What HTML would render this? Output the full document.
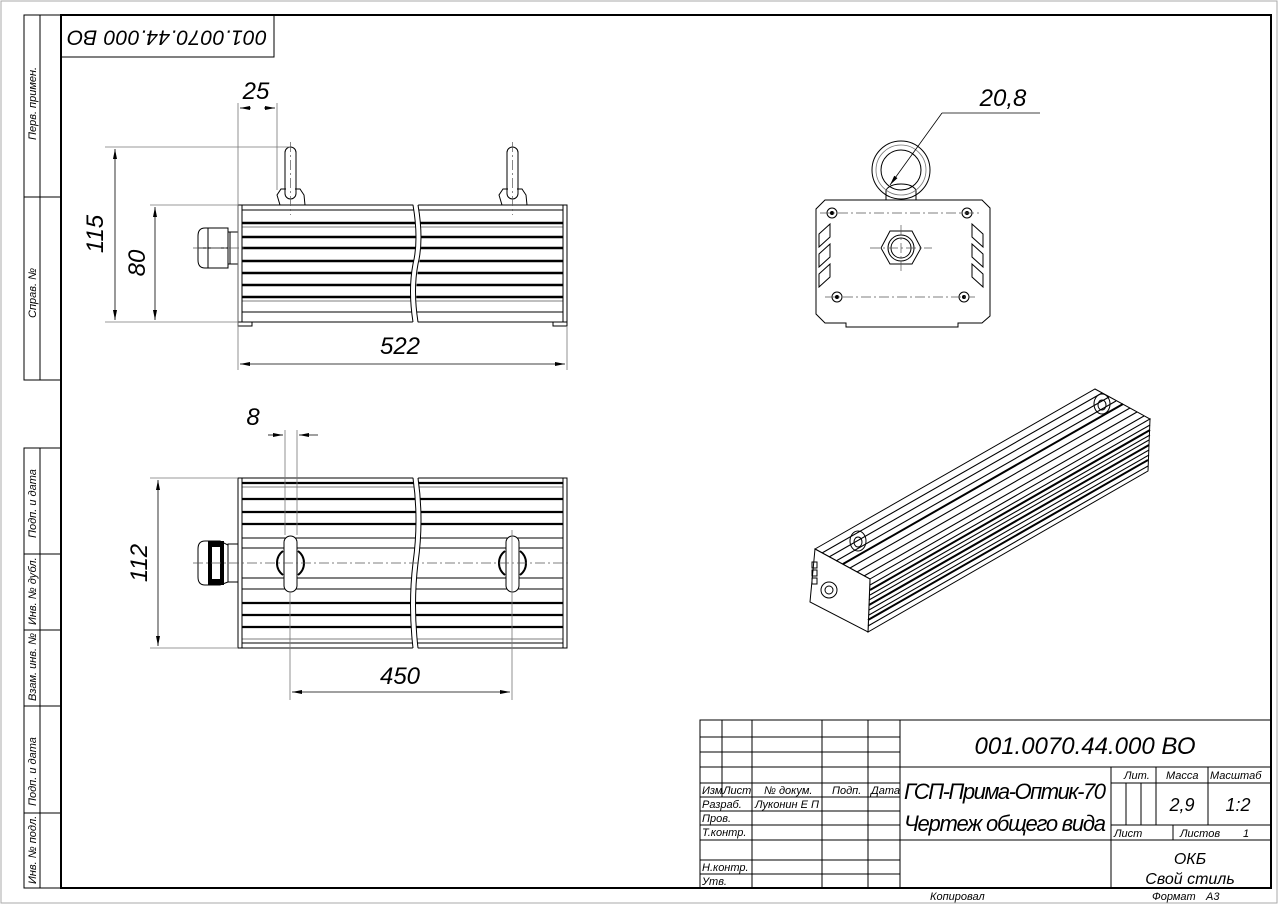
<!DOCTYPE html>
<html><head><meta charset="utf-8"><style>
html,body{margin:0;padding:0;background:#fff}
svg{display:block}
text{font-family:"Liberation Sans","DejaVu Sans",sans-serif;font-style:italic;fill:#000}
.t{stroke:#000;stroke-width:1;fill:none}
.T{stroke:#000;stroke-width:2;fill:none}
.g{stroke:#777;stroke-width:0.8;fill:none}
.c{stroke:#555;stroke-width:0.7;fill:none;stroke-dasharray:10 3 2 3}
</style></head><body>
<svg width="1279" height="905" viewBox="0 0 1279 905" xmlns="http://www.w3.org/2000/svg">
<defs>
<marker id="a" viewBox="0 0 10 4" refX="10" refY="2" markerWidth="12" markerHeight="4" markerUnits="userSpaceOnUse" orient="auto-start-reverse"><path d="M0,0L10,2L0,4z" fill="#000"/></marker>
</defs>
<rect x="1" y="1" width="1276" height="902" fill="none" stroke="#aaa" stroke-width="1"/>
<rect x="61" y="15" width="1210" height="873" class="T" stroke-width="1.5"/>
<!-- left stamps -->
<g class="t" stroke-width="1.3">
<rect x="24" y="15" width="37" height="365"/><line x1="40" y1="15" x2="40" y2="380"/><line x1="24" y1="197" x2="61" y2="197"/>
<rect x="24" y="448" width="37" height="440"/><line x1="40" y1="448" x2="40" y2="888"/>
<line x1="24" y1="554" x2="61" y2="554"/><line x1="24" y1="630" x2="61" y2="630"/><line x1="24" y1="706" x2="61" y2="706"/><line x1="24" y1="813" x2="61" y2="813"/>
</g>
<g font-size="11">
<text transform="translate(36,140) rotate(-90)">Перв. примен.</text>
<text transform="translate(36,318) rotate(-90)">Справ. №</text>
<text transform="translate(36,538) rotate(-90)">Подп. и дата</text>
<text transform="translate(36,625) rotate(-90)">Инв. № дубл.</text>
<text transform="translate(36,701) rotate(-90)">Взам. инв. №</text>
<text transform="translate(36,806) rotate(-90)">Подп. и дата</text>
<text transform="translate(36,884) rotate(-90)">Инв. № подл.</text>
</g>
<!-- top label box -->
<rect x="61" y="15" width="213" height="42" class="t" stroke-width="1.5"/>
<text transform="translate(167,36) rotate(180)" font-size="21" text-anchor="middle" dominant-baseline="middle" textLength="200">001.0070.44.000 ВО</text>

<!-- FRONT VIEW -->
<g>
<rect x="238" y="205" width="329" height="117" class="t" stroke-width="1.4"/>
<line x1="242" y1="205" x2="242" y2="322" class="t"/><line x1="563" y1="205" x2="563" y2="322" class="t"/>
<g stroke="#000">
<line x1="242" y1="210" x2="563" y2="210" stroke-width="1"/>
<line x1="242" y1="223" x2="563" y2="223" stroke-width="2.4"/>
<line x1="242" y1="237" x2="563" y2="237" stroke-width="2.4"/>
<line x1="242" y1="248" x2="563" y2="248" stroke-width="2.4"/>
<line x1="242" y1="261" x2="563" y2="261" stroke-width="2.4"/>
<line x1="242" y1="273" x2="563" y2="273" stroke-width="2.4"/>
<line x1="242" y1="285" x2="563" y2="285" stroke-width="2.4"/>
<line x1="242" y1="297" x2="563" y2="297" stroke-width="2.4"/>
<line x1="242" y1="312" x2="563" y2="312" stroke-width="1"/>
<line x1="242" y1="227" x2="563" y2="227" stroke-width="0.6"/>
<line x1="242" y1="301" x2="563" y2="301" stroke-width="0.6"/>
</g>
<path d="M413,203 Q419,240 413,264 Q408,290 413,324 L418,324 Q414,290 419,264 Q424,240 418,203Z" fill="#fff" stroke="none"/>
<path d="M413,205 Q419,240 413,264 Q408,290 413,322 M418,205 Q424,240 418,264 Q413,290 418,322" class="t"/>
<path d="M238,322 L238,326 L252,326 L252,322 M553,322 L553,326 L567,326 L567,322" class="t"/>
<!-- eyebolts -->
<g class="t">
<rect x="285" y="147" width="11" height="52" rx="5.5"/><path d="M280,205 L277,195 L281,189 L286,189 M295,189 L300,189 L304,195 L305,205"/>
<rect x="507" y="147" width="11" height="52" rx="5.5"/><path d="M502,205 L499,195 L503,189 L508,189 M517,189 L522,189 L526,195 L527,205"/>
</g>
<line x1="290.5" y1="142" x2="290.5" y2="215" class="c"/><line x1="512.5" y1="142" x2="512.5" y2="215" class="c"/>
<!-- gland -->
<g class="t">
<path d="M205,228 L228,228 L228,268 L205,268 Q198,268 198,260 L198,236 Q198,228 205,228Z"/>
<line x1="208" y1="228" x2="208" y2="268"/><line x1="198" y1="248" x2="228" y2="248"/>
<rect x="228" y="232" width="10" height="32"/><line x1="230" y1="232" x2="230" y2="264"/>
</g>
<line x1="193" y1="248" x2="245" y2="248" class="c"/>
</g>
<!-- front dims -->
<g class="g">
<line x1="238" y1="103" x2="238" y2="370"/><line x1="277" y1="103" x2="277" y2="190"/>
<line x1="105" y1="147" x2="290" y2="147"/><line x1="105" y1="322" x2="238" y2="322"/>
<line x1="150" y1="205" x2="238" y2="205"/><line x1="567" y1="326" x2="567" y2="370"/>
</g>
<g stroke="#000" stroke-width="0.8">
<line x1="240" y1="108" x2="251" y2="108" marker-start="url(#a)"/><line x1="264" y1="108" x2="275" y2="108" marker-end="url(#a)"/>
<line x1="115" y1="149" x2="115" y2="320" marker-start="url(#a)" marker-end="url(#a)"/>
<line x1="155" y1="207" x2="155" y2="320" marker-start="url(#a)" marker-end="url(#a)"/>
<line x1="240" y1="364" x2="565" y2="364" marker-start="url(#a)" marker-end="url(#a)"/>
</g>
<text x="256" y="99" font-size="24" text-anchor="middle">25</text>
<text transform="translate(103,234) rotate(-90)" font-size="24" text-anchor="middle">115</text>
<text transform="translate(145,263) rotate(-90)" font-size="24" text-anchor="middle">80</text>
<text x="400" y="354" font-size="24" text-anchor="middle">522</text>

<!-- END VIEW -->
<g class="t" stroke-width="1.3">
<path d="M825,200 L982,200 L990,208 L990,316 L982,323 L958,323 L958,327 L846,327 L846,323 L825,323 L816,314 L816,209Z"/>
<circle cx="901" cy="170" r="29"/><circle cx="901" cy="170" r="20"/>
<path d="M886,200 L886,190 Q890,184 901,184 Q912,184 916,190 L916,200"/>
<polygon points="890,231 912,231 921,248 912,264 890,264 881,248"/>
<circle cx="901" cy="248" r="10"/><circle cx="901" cy="248" r="13"/>
<g stroke-width="1"><circle cx="832" cy="213" r="5"/><circle cx="967" cy="213" r="5"/><circle cx="837" cy="297" r="5"/><circle cx="964" cy="297" r="5"/></g>
<path d="M819,234 L830,224 L830,237 L819,247Z M819,254 L830,244 L830,257 L819,267Z M819,274 L830,264 L830,277 L819,287Z"/>
<path d="M983,234 L972,224 L972,237 L983,247Z M983,254 L972,244 L972,257 L983,267Z M983,274 L972,264 L972,277 L983,287Z"/>
</g>
<circle cx="901" cy="170" r="25" class="g"/>
<g fill="#000"><circle cx="832" cy="213" r="2"/><circle cx="967" cy="213" r="2"/><circle cx="837" cy="297" r="2"/><circle cx="964" cy="297" r="2"/></g>
<line x1="820" y1="213" x2="980" y2="213" class="c"/><line x1="825" y1="297" x2="975" y2="297" class="c"/>
<line x1="870" y1="248" x2="932" y2="248" class="c"/><line x1="901" y1="225" x2="901" y2="272" class="c"/>
<line x1="890" y1="185" x2="942" y2="113" stroke="#000" stroke-width="0.8" marker-start="url(#a)"/>
<line x1="942" y1="113" x2="1040" y2="113" stroke="#000" stroke-width="0.8"/>
<text x="1003" y="106" font-size="24" text-anchor="middle">20,8</text>

<!-- PLAN VIEW -->
<g>
<rect x="238" y="478" width="329" height="170" class="t" stroke-width="1.4"/>
<line x1="242" y1="478" x2="242" y2="648" class="t"/><line x1="563" y1="478" x2="563" y2="648" class="t"/>
<g stroke="#000">
<line x1="242" y1="483" x2="563" y2="483" stroke-width="2.2"/>
<line x1="242" y1="499" x2="563" y2="499" stroke-width="2.2"/>
<line x1="242" y1="512" x2="563" y2="512" stroke-width="2.2"/>
<line x1="242" y1="524" x2="563" y2="524" stroke-width="2.2"/>
<line x1="242" y1="538" x2="563" y2="538" stroke-width="0.9"/>
<line x1="242" y1="548" x2="563" y2="548" stroke-width="0.9"/>
<line x1="242" y1="578" x2="563" y2="578" stroke-width="0.9"/>
<line x1="242" y1="589" x2="563" y2="589" stroke-width="0.9"/>
<line x1="242" y1="603" x2="563" y2="603" stroke-width="2.2"/>
<line x1="242" y1="615" x2="563" y2="615" stroke-width="2.2"/>
<line x1="242" y1="627" x2="563" y2="627" stroke-width="2.2"/>
<line x1="242" y1="643" x2="563" y2="643" stroke-width="1"/>
<line x1="242" y1="487" x2="563" y2="487" stroke-width="0.6"/>
<line x1="242" y1="639" x2="563" y2="639" stroke-width="0.6"/>
</g>
<path d="M413,476 Q419,520 413,563 Q408,605 413,650 L418,650 Q413,605 418,563 Q424,520 418,476Z" fill="#fff" stroke="none"/>
<path d="M413,478 Q419,520 413,563 Q408,605 413,648 M418,478 Q424,520 418,563 Q413,605 418,648" class="t"/>
<g class="t">
<path d="M283,551 A15,15 0 0,0 283,575 M298,551 A15,15 0 0,1 298,575" stroke-width="2"/>
<rect x="284" y="536" width="13" height="56" rx="6.5" fill="#fff"/>
<path d="M505,551 A15,15 0 0,0 505,575 M520,551 A15,15 0 0,1 520,575" stroke-width="2"/>
<rect x="506" y="536" width="13" height="56" rx="6.5" fill="#fff"/>
<path d="M205,541 L220,541 L228,545 L228,582 L220,585 L205,585 Q198,585 198,577 L198,549 Q198,541 205,541Z"/>
<rect x="228" y="544" width="10" height="38"/>
</g>
<rect x="208" y="541" width="16" height="44" fill="#000"/>
<rect x="212" y="547" width="8" height="32" fill="#fff"/>
<line x1="193" y1="563" x2="570" y2="563" class="c"/>
</g>
<g class="g">
<line x1="285" y1="430" x2="285" y2="535"/><line x1="297" y1="430" x2="297" y2="535"/>
<line x1="290" y1="592" x2="290" y2="700"/><line x1="512" y1="530" x2="512" y2="700"/>
<line x1="150" y1="478" x2="238" y2="478"/><line x1="150" y1="648" x2="238" y2="648"/>
</g>
<g stroke="#000" stroke-width="0.8">
<line x1="268" y1="435" x2="283" y2="435" marker-end="url(#a)"/><line x1="299" y1="435" x2="318" y2="435" marker-start="url(#a)"/>
<line x1="158" y1="480" x2="158" y2="646" marker-start="url(#a)" marker-end="url(#a)"/>
<line x1="292" y1="692" x2="510" y2="692" marker-start="url(#a)" marker-end="url(#a)"/>
</g>
<text x="253" y="425" font-size="24" text-anchor="middle">8</text>
<text transform="translate(147,563) rotate(-90)" font-size="24" text-anchor="middle">112</text>
<text x="400" y="684" font-size="24" text-anchor="middle">450</text>

<!-- 3D VIEW -->
<g class="t" stroke-width="1.4">
<polygon points="815,549 1095,389 1150,419 870,579" fill="#fff"/>
<polygon points="870,579 1150,419 1148,471 868,632" fill="#fff"/>
<polygon points="815,549 870,579 868,632 810,602" fill="#fff"/>
</g>
<g stroke="#000" stroke-width="1.1">
<line x1="822" y1="553" x2="1102" y2="393"/><line x1="829" y1="557" x2="1109" y2="397"/><line x1="836" y1="561" x2="1116" y2="401"/>
<line x1="843" y1="564" x2="1123" y2="404" stroke-width="2"/><line x1="850" y1="568" x2="1130" y2="408"/><line x1="857" y1="572" x2="1137" y2="412"/><line x1="864" y1="576" x2="1144" y2="416"/>
<line x1="870" y1="585" x2="1150" y2="425"/><line x1="870" y1="590" x2="1150" y2="430" stroke-width="2"/><line x1="870" y1="595" x2="1150" y2="435"/>
<line x1="869" y1="600" x2="1149" y2="440"/><line x1="869" y1="605" x2="1149" y2="445" stroke-width="2"/><line x1="869" y1="610" x2="1149" y2="450"/>
<line x1="869" y1="615" x2="1149" y2="455"/><line x1="868" y1="620" x2="1148" y2="460" stroke-width="2"/><line x1="868" y1="626" x2="1148" y2="466"/>
</g>
<g class="t" stroke-width="1.3">
<ellipse cx="858" cy="541" rx="8" ry="10"/><ellipse cx="858" cy="542" rx="4" ry="5"/>
<ellipse cx="1102" cy="404" rx="8" ry="10"/><ellipse cx="1102" cy="405" rx="4" ry="5"/>
<circle cx="829" cy="590" r="8"/><circle cx="829" cy="590" r="4"/>
<rect x="812" y="562" width="5" height="6"/><rect x="812" y="570" width="5" height="6"/><rect x="812" y="578" width="5" height="6"/>
</g>

<!-- TITLE BLOCK -->
<g class="t" stroke-width="1.4">
<rect x="700" y="720" width="571" height="168"/>
<line x1="900" y1="720" x2="900" y2="888"/>
<line x1="900" y1="767" x2="1271" y2="767"/><line x1="900" y1="840" x2="1271" y2="840"/>
<line x1="1111" y1="767" x2="1111" y2="888"/>
<line x1="1111" y1="783" x2="1271" y2="783"/><line x1="1111" y1="825" x2="1271" y2="825"/>
<line x1="1156" y1="767" x2="1156" y2="825"/><line x1="1208" y1="767" x2="1208" y2="825"/><line x1="1173" y1="825" x2="1173" y2="840"/>
<line x1="700" y1="783" x2="900" y2="783"/><line x1="700" y1="797" x2="900" y2="797"/>
<line x1="722" y1="720" x2="722" y2="797"/><line x1="752" y1="720" x2="752" y2="888"/>
<line x1="822" y1="720" x2="822" y2="888"/><line x1="868" y1="720" x2="868" y2="888"/>
</g>
<g class="t" stroke-width="0.8">
<line x1="700" y1="737" x2="900" y2="737"/><line x1="700" y1="752" x2="900" y2="752"/><line x1="700" y1="767" x2="900" y2="767"/>
<line x1="700" y1="811" x2="900" y2="811"/><line x1="700" y1="825" x2="900" y2="825"/><line x1="700" y1="840" x2="900" y2="840"/>
<line x1="700" y1="860" x2="900" y2="860"/><line x1="700" y1="874" x2="900" y2="874"/>
<line x1="1126" y1="783" x2="1126" y2="825"/><line x1="1141" y1="783" x2="1141" y2="825"/>
</g>
<g font-size="11">
<text x="702" y="794">Изм</text><text x="723" y="794">Лист</text><text x="764" y="794">№ докум.</text><text x="832" y="794">Подп.</text><text x="871" y="794">Дата</text>
<text x="702" y="808">Разраб.</text><text x="755" y="808">Луконин Е П</text>
<text x="702" y="822">Пров.</text><text x="702" y="836">Т.контр.</text>
<text x="702" y="871">Н.контр.</text><text x="702" y="885">Утв.</text>
<text x="1124" y="779">Лит.</text><text x="1166" y="779">Масса</text><text x="1210" y="779">Масштаб</text>
<text x="1114" y="837">Лист</text><text x="1180" y="837">Листов</text><text x="1243" y="837">1</text>
<text x="930" y="900">Копировал</text><text x="1152" y="900">Формат</text><text x="1206" y="900">А3</text>
</g>
<text x="1085" y="754" font-size="24" text-anchor="middle">001.0070.44.000 ВО</text>
<text x="1005" y="799" font-size="22" text-anchor="middle" textLength="202">ГСП-Прима-Оптик-70</text>
<text x="1005" y="831" font-size="22" text-anchor="middle" textLength="202">Чертеж общего вида</text>
<text x="1182" y="811" font-size="18" text-anchor="middle">2,9</text>
<text x="1238" y="811" font-size="18" text-anchor="middle">1:2</text>
<text x="1190" y="864" font-size="16" text-anchor="middle">ОКБ</text>
<text x="1190" y="884" font-size="16" text-anchor="middle">Свой стиль</text>
</svg>
</body></html>
